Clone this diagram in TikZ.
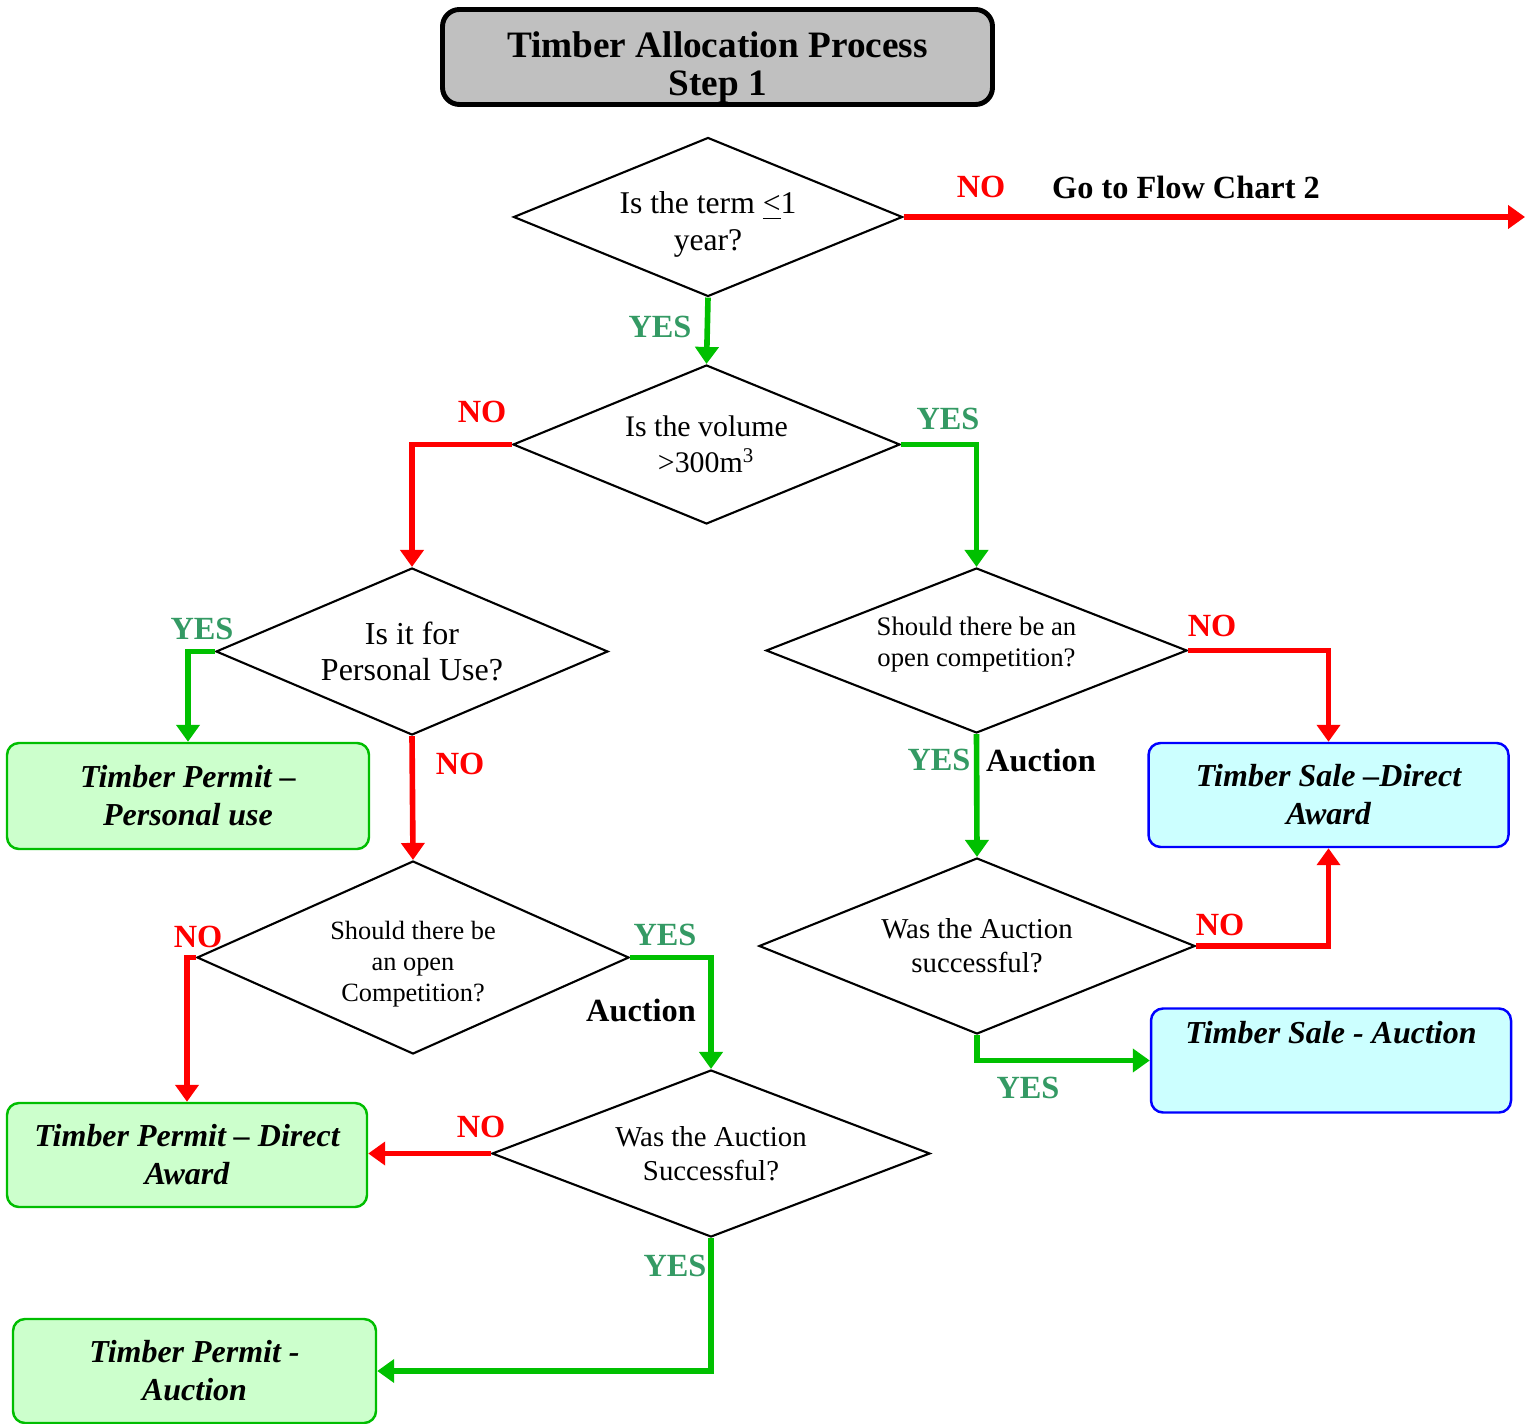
\documentclass[tikz,border=0pt]{standalone}
\usepackage{fontspec}
\setmainfont{Liberation Serif}
\usetikzlibrary{arrows.meta,shapes.geometric}

\definecolor{titleGray}{RGB}{192,192,192}
\definecolor{noRed}{RGB}{255,0,0}
\definecolor{yesLine}{RGB}{0,192,0}
\definecolor{yesText}{RGB}{52,154,100}
\definecolor{permitFill}{RGB}{204,255,204}
\definecolor{permitEdge}{RGB}{0,190,0}
\definecolor{saleFill}{RGB}{204,255,255}
\definecolor{saleEdge}{RGB}{0,0,255}

\begin{document}
\begin{tikzpicture}[
    title/.style={draw=black, line width=1.4pt, fill=titleGray, rounded corners=0.17cm,
      minimum width=5.5cm, minimum height=0.95cm, align=center, text height=0.84cm,
      inner ysep=0pt, font=\fontsize{10.6}{10.8}\selectfont\bfseries},
    decision/.style={diamond, aspect=2.4, draw=black, line width=0.6pt, inner sep=0pt,
      align=center, font=\fontsize{8.6}{10.3}\selectfont},
    small/.style={font=\fontsize{7.6}{8.8}\selectfont},
    permit/.style={draw=permitEdge, fill=permitFill, line width=0.7pt, rounded corners=0.12cm,
      minimum width=3.6cm, minimum height=1.04cm, align=center,
      font=\fontsize{9.1}{10.8}\selectfont\bfseries\itshape},
    sale/.style={permit, draw=saleEdge, fill=saleFill},
    yesarrow/.style={-{Triangle[length=0.17cm, width=0.23cm]}, line width=1.6pt, yesLine},
    noarrow/.style={yesarrow, noRed},
    lab/.style={font=\fontsize{9.2}{11}\selectfont\bfseries, inner sep=0pt},
    yeslab/.style={lab, text=yesText},
    nolab/.style={lab, text=noRed}
  ]
  \useasboundingbox (0,0) rectangle (15.25,-14.24);

  \node[title] (head) at (7.175,-0.57) {Timber Allocation Process\\Step 1};

  % questions
  \node[decision, aspect=2.45, font=\fontsize{9.0}{10.6}\selectfont, text height=0.74cm,
    minimum width=3.89cm, minimum height=1.59cm] (term) at (7.08,-2.17)
    {Is the term \underline{<}1\\year?};
  \node[decision, font=\fontsize{8.5}{10.3}\selectfont,
    minimum width=3.87cm, minimum height=1.59cm] (volume) at (7.065,-4.445)
    {Is the volume\\>300m\textsuperscript{3}};
  \node[decision, font=\fontsize{9.1}{10.3}\selectfont,
    minimum width=3.92cm, minimum height=1.67cm] (personal) at (4.12,-6.515)
    {Is it for\\Personal Use?};
  \node[decision, small, text depth=0.18cm,
    minimum width=4.21cm, minimum height=1.65cm] (openR) at (9.765,-6.505)
    {Should there be an\\open competition?};
  \node[decision, font=\fontsize{8.2}{9.6}\selectfont,
    minimum width=4.36cm, minimum height=1.76cm] (auctR) at (9.77,-9.46)
    {Was the Auction\\successful?};
  \node[decision, font=\fontsize{7.5}{8.8}\selectfont, text height=0.94cm,
    minimum width=4.32cm, minimum height=1.93cm] (openL) at (4.13,-9.575)
    {Should there be\\an open\\Competition?};
  \node[decision, font=\fontsize{8.2}{9.6}\selectfont,
    minimum width=4.38cm, minimum height=1.67cm] (auctL) at (7.11,-11.535)
    {Was the Auction\\Successful?};

  % outcomes
  \node[permit, minimum width=3.62cm, minimum height=1.06cm] (pu) at (1.88,-7.96) {Timber Permit –\\Personal use};
  \node[sale] (tsd) at (13.285,-7.95) {Timber Sale –Direct\\Award};
  \node[sale, text height=0.2cm, text depth=0.54cm] (tsa) at (13.31,-10.605) {Timber Sale - Auction};
  \node[permit] (tpd) at (1.87,-11.55) {Timber Permit – Direct\\Award};
  \node[permit, minimum width=3.63cm] (tpa) at (1.945,-13.71) {Timber Permit -\\Auction};

  \coordinate (chart2) at (15.25,-2.17);

  % connectors
  \draw[noarrow] (term.east) -- (chart2);
  \draw[yesarrow] (term.south) -- (volume.north);
  \draw[noarrow] (volume.west) -| (personal.north);
  \draw[yesarrow] (volume.east) -| (openR.north);
  \draw[yesarrow] (personal.west) -| (pu.north);
  \draw[noarrow] (personal.south) -- (openL.north);
  \draw[noarrow] (openR.east) -| (tsd.north);
  \draw[yesarrow] (openR.south) -- (auctR.north);
  \draw[noarrow] (auctR.east) -| (tsd.south);
  \draw[yesarrow] (auctR.south) |- (tsa.west);
  \draw[noarrow] (openL.west) -| (tpd.north);
  \draw[yesarrow] (openL.east) -| (auctL.north);
  \draw[noarrow] (auctL.west) -- (tpd.east |- auctL.west);
  \draw[yesarrow] (auctL.south) |- (tpa.east);

  % labels
  \node[nolab] (no1) at (9.81,-1.87) {NO};
  \node[lab] (goto) at (11.86,-1.87) {Go to Flow Chart 2};
  \node[yeslab] (yes1) at (6.60,-3.27) {YES};
  \node[nolab] (no2) at (4.82,-4.12) {NO};
  \node[yeslab] (yes2) at (9.48,-4.19) {YES};
  \node[yeslab] (yes3) at (2.02,-6.29) {YES};
  \node[nolab] (no3) at (4.60,-7.64) {NO};
  \node[nolab] (no4) at (12.12,-6.26) {NO};
  \node[yeslab] (yes4) at (9.39,-7.60) {YES};
  \node[lab] (auc1) at (10.41,-7.60) {Auction};
  \node[nolab] (no5) at (12.20,-9.25) {NO};
  \node[yeslab] (yes5) at (10.28,-10.88) {YES};
  \node[nolab] (no6) at (1.98,-9.37) {NO};
  \node[yeslab] (yes6) at (6.65,-9.35) {YES};
  \node[lab] (auc2) at (6.41,-10.10) {Auction};
  \node[nolab] (no7) at (4.81,-11.27) {NO};
  \node[yeslab] (yes7) at (6.75,-12.66) {YES};
\end{tikzpicture}
\end{document}
